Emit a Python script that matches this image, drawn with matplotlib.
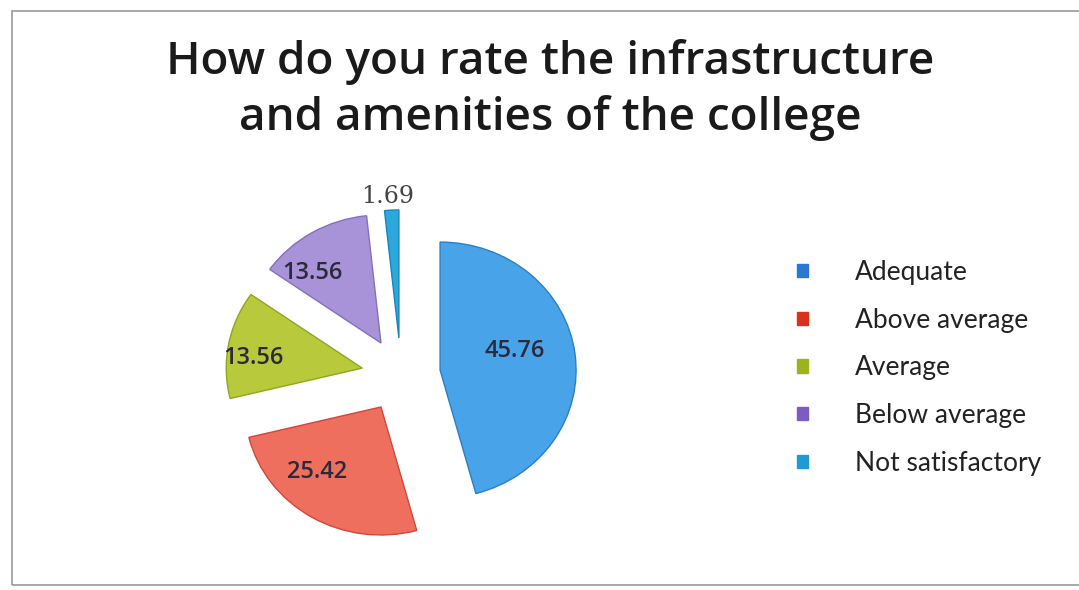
import matplotlib
matplotlib.use("Agg")
import matplotlib.pyplot as plt
from matplotlib.patches import Rectangle, Patch
import numpy as np

categories = ["Adequate", "Above average", "Average", "Below average", "Not satisfactory"]
values = [45.76, 25.42, 13.56, 13.56, 1.69]
value_labels = ["45.76", "25.42", "13.56", "13.56", "1.69"]

slice_colors = ["#48a3e8", "#ef6f5f", "#b8ca3c", "#a892d8", "#2ba8dc"]
edge_colors = ["#2b7fc4", "#d2463a", "#93a51f", "#8570bd", "#1a86b8"]
legend_colors = ["#2a78d4", "#d8321f", "#9ab41e", "#7c5cc4", "#1f9ad6"]

W, H = 1079, 590
fig = plt.figure(figsize=(W / 100, H / 100), dpi=100)
fig.patch.set_facecolor("white")

# photo frame
fig.add_artist(Rectangle((12 / W, 5 / H), 1070 / W, 574 / H, transform=fig.transFigure,
                         fill=False, edgecolor="#9a9a9a", linewidth=1.2))

title_lines = ["How do you rate the infrastructure", "and amenities of the college"]
for line, ypx in zip(title_lines, [62, 118]):
    fig.text(550 / W, 1 - ypx / H, line, ha="center", va="center", fontsize=33,
             family="Open Sans", fontweight="semibold", color="#1a1a1a")

RX, RY = 136.0, 128.0  # pixel radii (slight perspective squash in the photo)
CX, CY = 401.0, 215.0
ax = fig.add_axes([(CX - 1.5 * RX) / W, (CY - 1.5 * RY) / H, 3 * RX / W, 3 * RY / H])
wedges, _ = ax.pie(values, startangle=90, counterclock=False,
                   colors=slice_colors, explode=[0.29] * len(values),
                   wedgeprops=dict(linewidth=1.0))
for w, ec in zip(wedges, edge_colors):
    w.set_edgecolor(ec)
ax.set_xlim(-1.5, 1.5)
ax.set_ylim(-1.5, 1.5)
ax.set_aspect("auto")
ax.axis("off")

# label placement relative to each wedge's apex (radius, angle shift in degrees)
label_r = [0.57, 0.69, 0.80, 0.745, 1.11]
label_shift = [7.7, -12.3, 5.2, 11.9, 1.4]
for w, lab, r, sh in zip(wedges, value_labels, label_r, label_shift):
    ang = np.deg2rad((w.theta1 + w.theta2) / 2 + sh)
    cx, cy = w.center
    x = cx + r * np.cos(ang)
    y = cy + r * np.sin(ang)
    if lab == "1.69":
        ax.text(x, y, lab, ha="center", va="center", fontsize=17,
                family="DejaVu Serif", color="#444444")
    else:
        ax.text(x, y, lab, ha="center", va="center", fontsize=17,
                family="Open Sans", fontweight="semibold", color="#2a2a3a")

handles = [Patch(facecolor=c, edgecolor=c) for c in legend_colors]
leg = fig.legend(handles, categories, loc="center left",
                 bbox_to_anchor=(797 / W, 1 - 368 / H),
                 frameon=False, handlelength=0.4, handleheight=0.4,
                 labelspacing=0.86, handletextpad=1.8, borderpad=0, borderaxespad=0,
                 prop=dict(family="Lato", size=19))
for t in leg.get_texts():
    t.set_color("#222222")

fig.savefig("out.png", dpi=100)
